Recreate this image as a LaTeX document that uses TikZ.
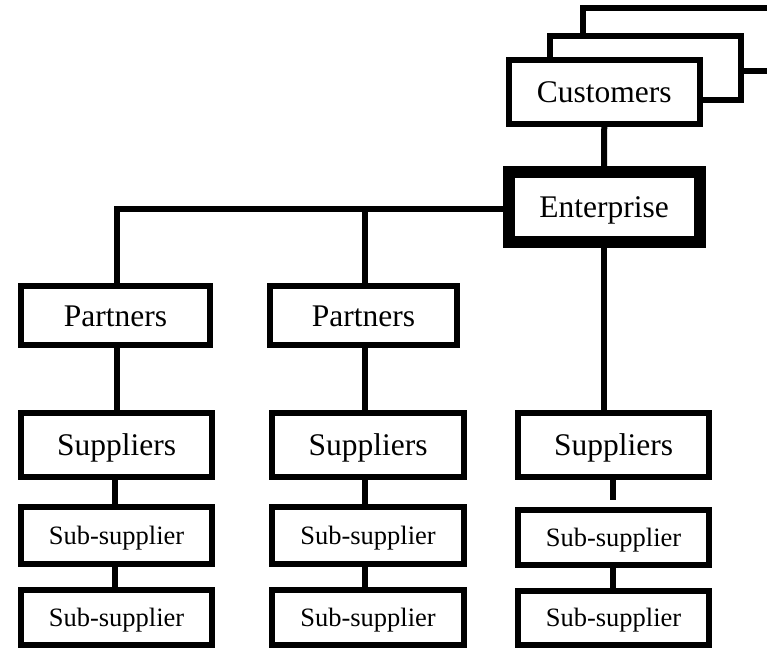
\documentclass[tikz,border=0pt]{standalone}
\usepackage{fontspec}
\setmainfont{Liberation Serif}
\begin{document}
\begin{tikzpicture}[x=1pt, y=-1pt,
  box/.style={draw, fill=white, line width=6pt, rectangle, inner sep=0pt,
    font=\fontsize{31.5}{36}\selectfont, text height=21pt, text depth=0pt},
  mainbox/.style={box, line width=12pt},
  subbox/.style={box, font=\fontsize{26.5}{30}\selectfont, text height=17.5pt},
  link/.style={line width=6pt}]
\useasboundingbox (0,0) rectangle (767,647);
\clip (0,0) rectangle (767,647);
\fill[white] (0,0) rectangle (767,647);

% stacked customer sheets
\draw[box] (583,8) rectangle (820,71);
\draw[box] (550,36) rectangle (741,100);
\node[box, minimum width=190.5pt, minimum height=64pt] (cust) at (604.25,92) {Customers};

% enterprise
\node[mainbox, minimum width=191pt, minimum height=69.5pt] (ent) at (604,206.75) {Enterprise};

% partners
\node[box, minimum width=189pt, minimum height=59pt] (par1) at (115.5,315.5) {Partners};
\node[box, minimum width=187pt, minimum height=59pt] (par2) at (363.5,315.5) {Partners};

% suppliers
\node[box, minimum width=191pt, minimum height=64pt] (sup1) at (116.5,445) {Suppliers};
\node[box, minimum width=192pt, minimum height=64pt] (sup2) at (368,445) {Suppliers};
\node[box, minimum width=191pt, minimum height=64pt] (sup3) at (613.5,445) {Suppliers};

% sub-suppliers
\node[subbox, minimum width=191pt, minimum height=57pt] (suba1) at (116.5,535.5) {Sub-supplier};
\node[subbox, minimum width=192pt, minimum height=57pt] (suba2) at (368,535.5) {Sub-supplier};
\node[subbox, minimum width=191pt, minimum height=55pt] (suba3) at (613.5,537.5) {Sub-supplier};
\node[subbox, minimum width=191pt, minimum height=55pt] (subb1) at (116.5,617.5) {Sub-supplier};
\node[subbox, minimum width=192pt, minimum height=55pt] (subb2) at (368,617.5) {Sub-supplier};
\node[subbox, minimum width=191pt, minimum height=54pt] (subb3) at (613.5,618) {Sub-supplier};

% connectors
\coordinate (bus) at (117,209);
\coordinate (mid) at (365,0);
\coordinate (right) at (604,0);
\coordinate (c1) at (115,0);
\coordinate (c3) at (613,0);

\draw[link] (cust.south) -- (ent.north);
\draw[link] (ent.west |- bus) -- (bus) -- (bus |- par1.north);
\draw[link] (mid |- bus) -- (mid |- par2.north);
\draw[link] (right |- ent.south) -- (right |- sup3.north);
\draw[link] (bus |- par1.south) -- (bus |- sup1.north);
\draw[link] (mid |- par2.south) -- (mid |- sup2.north);

\draw[link] (c1 |- sup1.south) -- (c1 |- suba1.north);
\draw[link] (c1 |- suba1.south) -- (c1 |- subb1.north);
\draw[link] (mid |- sup2.south) -- (mid |- suba2.north);
\draw[link] (mid |- suba2.south) -- (mid |- subb2.north);
\draw[link, shorten >=7pt] (c3 |- sup3.south) -- (c3 |- suba3.north);
\draw[link] (c3 |- suba3.south) -- (c3 |- subb3.north);
\end{tikzpicture}
\end{document}
